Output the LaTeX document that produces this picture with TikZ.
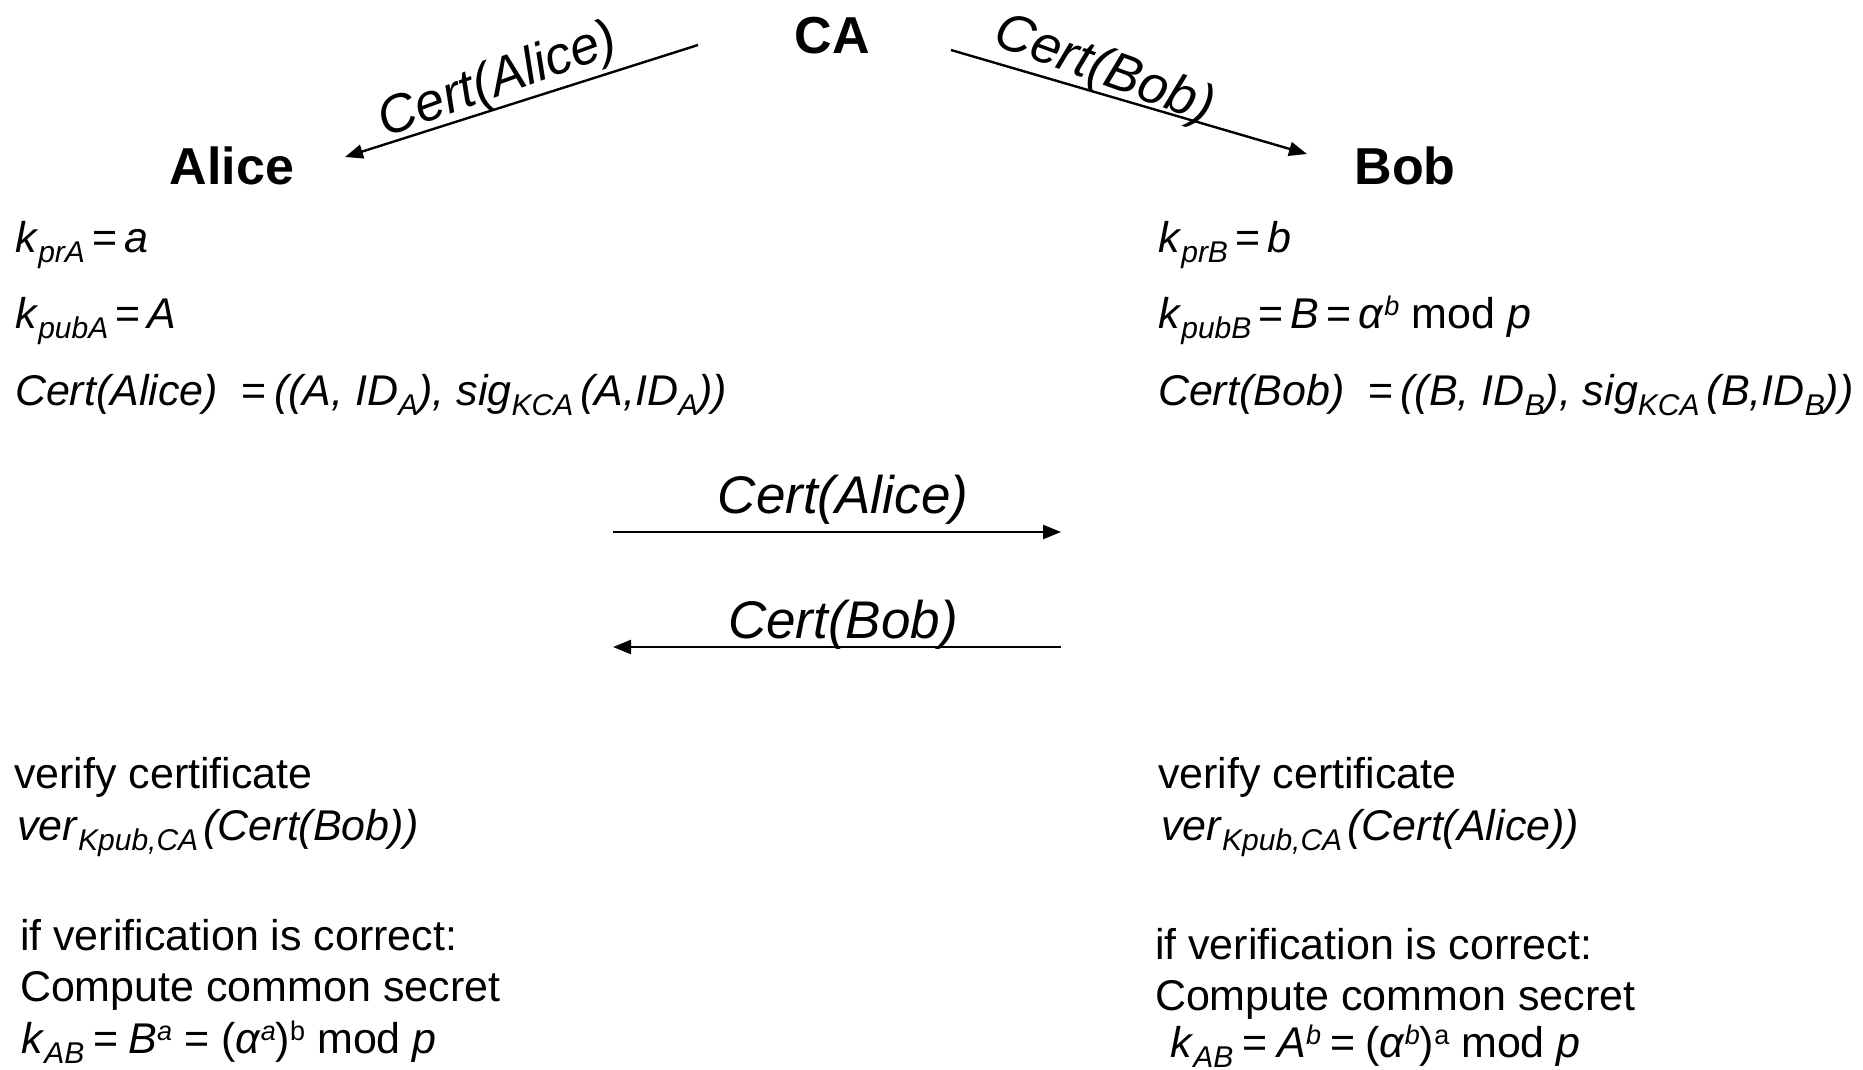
\documentclass[tikz,border=0pt]{standalone}
\usepackage{fontspec}
\setmainfont{Liberation Sans}
\usetikzlibrary{arrows.meta}
% lowered and raised indices for the formulas
\newcommand\lo[1]{\raisebox{-0.25em}{\fontsize{30}{30}\selectfont\itshape #1}}
\newcommand\hi[1]{\raisebox{0.3em}{\fontsize{27}{27}\selectfont #1}}
\newcommand\eq{\,=\,}
\newcommand\eqw{\hspace{0.22em}=\hspace{0.22em}}
\begin{document}
\begin{tikzpicture}[x=1pt,y=-1pt,
  every node/.style={inner sep=0pt, outer sep=0pt},
  party/.style={font=\fontsize{52}{52}\selectfont\bfseries, anchor=base},
  txt/.style={font=\fontsize{43}{43}\selectfont, anchor=base west},
  msg/.style={font=\fontsize{53}{53}\selectfont\itshape, anchor=base},
  arr/.style={line width=2.4pt, -{Triangle[length=18pt,width=14pt]}}]
\useasboundingbox (0,0) rectangle (1863,1069);

% parties
\node[party] (ca) at (832,53) {CA};
\node[party] (alice) at (232,184) {Alice};
\node[party] (bob) at (1405,184) {Bob};

% certificates issued by the CA
\coordinate (caL) at (698,45);
\coordinate (caR) at (951,50);
\coordinate (alIn) at (345,157);
\coordinate (bobIn) at (1307,154);
\draw[arr] (caL) -- (alIn);
\draw[arr] (caR) -- (bobIn);
\node[msg, rotate=20] (certA1) at (503,95) {Cert(Alice)};
\node[msg, rotate=-20] (certB1) at (1099,84) {Cert(Bob)};

% Alice's keys
\node[txt] (a1) at (15,252) {\textit{k}\lo{prA}\eq\textit{a}};
\node[txt] (a2) at (15,328) {\textit{k}\lo{pubA}\eq\textit{A}};
\node[txt] (a3) at (15,405) {\textit{Cert(Alice)}\ \ =\,\textit{((A, ID\lo{A}), sig\lo{KCA}\,(A,ID\lo{A}))}};

% Bob's keys
\node[txt] (b1) at (1158,252) {\textit{k}\lo{prB}\eq\textit{b}};
\node[txt] (b2) at (1158,328) {\textit{k}\lo{pubB}\eq\textit{B}\eq\textit{α}\hi{\itshape b} mod \textit{p}};
\node[txt] (b3) at (1158,405) {\textit{Cert(Bob)}\ \ =\,\textit{((B, ID\lo{B}), sig\lo{KCA}\,(B,ID\lo{B}))}};

% certificate exchange
\coordinate (m1s) at (613,532);
\coordinate (m1e) at (1061,532);
\coordinate (m2s) at (1061,647);
\coordinate (m2e) at (613,647);
\draw[arr] (m1s) -- (m1e);
\draw[arr] (m2s) -- (m2e);
\node[msg] (certA2) at (843,513) {Cert(Alice)};
\node[msg] (certB2) at (843,638) {Cert(Bob)};

% Alice verifies and computes the key
\node[txt] (a4) at (14,788) {verify certificate};
\node[txt] (a5) at (17,840) {\textit{ver}\lo{Kpub,CA}\hspace{0.12em}\textit{(Cert(Bob))}};
\node[txt] (a6) at (20,950) {if verification is correct:};
\node[txt] (a7) at (20,1001) {Compute common secret};
\node[txt] (a8) at (21,1053) {\textit{k}\lo{AB}\eqw\textit{B}\hi{\itshape a}\ =\ (\textit{α}\hi{\itshape a})\hi{b} mod \textit{p}};

% Bob verifies and computes the key
\node[txt] (b4) at (1158,788) {verify certificate};
\node[txt] (b5) at (1161,840) {\textit{ver}\lo{Kpub,CA}\hspace{0.12em}\textit{(Cert(Alice))}};
\node[txt] (b6) at (1155,959) {if verification is correct:};
\node[txt] (b7) at (1155,1010) {Compute common secret};
\node[txt] (b8) at (1170,1057) {\textit{k}\lo{AB}\eqw\textit{A}\hi{\itshape b}\eqw(\textit{α}\hi{\itshape b})\hi{a} mod \textit{p}};
\end{tikzpicture}
\end{document}
